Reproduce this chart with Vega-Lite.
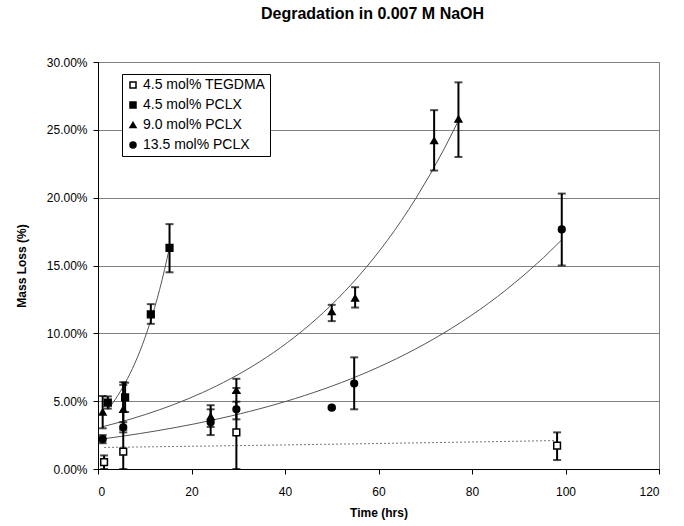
{
  "$schema": "https://vega.github.io/schema/vega-lite/v6.json",
  "autosize": {"type": "none"},
  "width": 561,
  "height": 407,
  "padding": {"left": 98, "top": 62, "right": 25, "bottom": 57},
  "background": "white",
  "config": {
    "font": "Liberation Sans",
    "view": {"stroke": "#808080", "strokeWidth": 1}
  },
  "title": {
    "text": "Degradation in 0.007 M NaOH",
    "fontSize": 16,
    "fontWeight": "bold",
    "font": "Liberation Sans",
    "anchor": "middle",
    "offset": 34,
    "dx": -6,
    "color": "black"
  },
  "data": {
    "values": [
      {"series": "4.5 mol% TEGDMA", "t": 1.3, "m": 0.5, "lo": 0.0, "hi": 1.0},
      {"series": "4.5 mol% TEGDMA", "t": 5.4, "m": 1.28, "lo": 0.0, "hi": 6.4},
      {"series": "4.5 mol% TEGDMA", "t": 29.6, "m": 2.7, "lo": 0.0, "hi": 6.65},
      {"series": "4.5 mol% TEGDMA", "t": 98.2, "m": 1.72, "lo": 0.66, "hi": 2.7},
      {"series": "4.5 mol% PCLX", "t": 2.1, "m": 4.9, "lo": 4.45, "hi": 5.35},
      {"series": "4.5 mol% PCLX", "t": 5.8, "m": 5.28, "lo": 4.2, "hi": 6.36},
      {"series": "4.5 mol% PCLX", "t": 11.3, "m": 11.4, "lo": 10.7, "hi": 12.15},
      {"series": "4.5 mol% PCLX", "t": 15.3, "m": 16.3, "lo": 14.5, "hi": 18.05},
      {"series": "9.0 mol% PCLX", "t": 1.0, "m": 4.2, "lo": 3.0, "hi": 5.38},
      {"series": "9.0 mol% PCLX", "t": 5.4, "m": 4.4, "lo": 2.9, "hi": 6.2},
      {"series": "9.0 mol% PCLX", "t": 24.1, "m": 3.86, "lo": 3.1, "hi": 4.7},
      {"series": "9.0 mol% PCLX", "t": 29.6, "m": 5.8, "lo": 5.6, "hi": 5.97},
      {"series": "9.0 mol% PCLX", "t": 50.0, "m": 11.6, "lo": 10.9, "hi": 12.1},
      {"series": "9.0 mol% PCLX", "t": 55.0, "m": 12.6, "lo": 11.9, "hi": 13.4},
      {"series": "9.0 mol% PCLX", "t": 71.9, "m": 24.2, "lo": 22.0, "hi": 26.45},
      {"series": "9.0 mol% PCLX", "t": 77.1, "m": 25.8, "lo": 23.0, "hi": 28.5},
      {"series": "13.5 mol% PCLX", "t": 1.0, "m": 2.2, "lo": 1.9, "hi": 2.5},
      {"series": "13.5 mol% PCLX", "t": 5.4, "m": 3.07, "lo": 2.7, "hi": 3.45},
      {"series": "13.5 mol% PCLX", "t": 24.1, "m": 3.45, "lo": 2.5, "hi": 4.4},
      {"series": "13.5 mol% PCLX", "t": 29.6, "m": 4.4, "lo": 3.66, "hi": 4.96},
      {"series": "13.5 mol% PCLX", "t": 50.0, "m": 4.52, "lo": 4.45, "hi": 4.6},
      {"series": "13.5 mol% PCLX", "t": 54.8, "m": 6.3, "lo": 4.4, "hi": 8.23},
      {"series": "13.5 mol% PCLX", "t": 99.2, "m": 17.66, "lo": 15.0, "hi": 20.3}
    ]
  },
  "encoding": {
    "x": {
      "field": "t",
      "type": "quantitative",
      "title": "Time (hrs)",
      "scale": {"domain": [0, 120], "nice": false, "zero": true},
      "axis": {
        "values": [0, 20, 40, 60, 80, 100, 120],
        "grid": false,
        "domainColor": "black",
        "tickColor": "black",
        "tickSize": 5,
        "labelPadding": 12,
        "labelFontSize": 12,
        "labelColor": "black",
        "titleFontSize": 12,
        "titleFontWeight": "bold",
        "titleColor": "black",
        "titlePadding": 10
      }
    },
    "y": {
      "field": "m",
      "type": "quantitative",
      "title": "Mass Loss (%)",
      "scale": {"domain": [0, 30], "nice": false, "zero": true},
      "axis": {
        "values": [0, 5, 10, 15, 20, 25, 30],
        "labelExpr": "format(datum.value, '.2f') + '%'",
        "grid": true,
        "gridColor": "#808080",
        "gridWidth": 1,
        "domainColor": "black",
        "tickColor": "black",
        "tickSize": 5,
        "labelPadding": 6,
        "labelFontSize": 12,
        "labelColor": "black",
        "titleFontSize": 12,
        "titleFontWeight": "bold",
        "titleColor": "black",
        "titlePadding": 18
      }
    }
  },
  "layer": [
    {
      "transform": [
        {"filter": "datum.series != '4.5 mol% TEGDMA'"},
        {"regression": "m", "on": "t", "groupby": ["series"], "method": "exp"}
      ],
      "mark": {"type": "line", "color": "#555555", "strokeWidth": 1},
      "encoding": {"detail": {"field": "series"}}
    },
    {
      "transform": [
        {"filter": "datum.series == '4.5 mol% TEGDMA'"},
        {"regression": "m", "on": "t", "method": "exp"}
      ],
      "mark": {"type": "line", "color": "#777777", "strokeWidth": 1, "strokeDash": [2, 2]},
      "encoding": {}
    },
    {
      "mark": {
        "type": "errorbar",
        "color": "black",
        "ticks": {"size": 8, "thickness": 2, "color": "black"},
        "rule": {"strokeWidth": 2, "color": "black"}
      },
      "encoding": {
        "y": {"field": "lo", "type": "quantitative"},
        "y2": {"field": "hi"}
      }
    },
    {
      "mark": {"type": "point", "filled": true, "opacity": 1, "strokeWidth": 1.5},
      "encoding": {
        "shape": {
          "field": "series",
          "type": "nominal",
          "sort": ["4.5 mol% TEGDMA", "4.5 mol% PCLX", "9.0 mol% PCLX", "13.5 mol% PCLX"],
          "scale": {
            "domain": ["4.5 mol% TEGDMA", "4.5 mol% PCLX", "9.0 mol% PCLX", "13.5 mol% PCLX"],
            "range": ["square", "square", "triangle-up", "circle"]
          },
          "legend": {
            "title": null,
            "orient": "none",
            "legendX": 24,
            "legendY": 12,
            "padding": 4,
            "strokeColor": "black",
            "fillColor": "white",
            "cornerRadius": 0,
            "labelFontSize": 14,
            "labelColor": "black",
            "labelFont": "Liberation Sans",
            "symbolSize": 36,
            "symbolStrokeWidth": 1.5,
            "rowPadding": 6,
            "labelOffset": 3
          }
        },
        "fill": {
          "field": "series",
          "type": "nominal",
          "sort": ["4.5 mol% TEGDMA", "4.5 mol% PCLX", "9.0 mol% PCLX", "13.5 mol% PCLX"],
          "scale": {
            "domain": ["4.5 mol% TEGDMA", "4.5 mol% PCLX", "9.0 mol% PCLX", "13.5 mol% PCLX"],
            "range": ["white", "black", "black", "black"]
          },
          "legend": {
            "title": null,
            "orient": "none",
            "legendX": 24,
            "legendY": 12,
            "padding": 4,
            "strokeColor": "black",
            "fillColor": "white",
            "cornerRadius": 0,
            "labelFontSize": 14,
            "labelColor": "black",
            "labelFont": "Liberation Sans",
            "symbolSize": 36,
            "symbolStrokeWidth": 1.5,
            "rowPadding": 6,
            "labelOffset": 3
          }
        },
        "stroke": {
          "field": "series",
          "type": "nominal",
          "sort": ["4.5 mol% TEGDMA", "4.5 mol% PCLX", "9.0 mol% PCLX", "13.5 mol% PCLX"],
          "scale": {
            "domain": ["4.5 mol% TEGDMA", "4.5 mol% PCLX", "9.0 mol% PCLX", "13.5 mol% PCLX"],
            "range": ["black", "black", "black", "black"]
          },
          "legend": {
            "title": null,
            "orient": "none",
            "legendX": 24,
            "legendY": 12,
            "padding": 4,
            "strokeColor": "black",
            "fillColor": "white",
            "cornerRadius": 0,
            "labelFontSize": 14,
            "labelColor": "black",
            "labelFont": "Liberation Sans",
            "symbolSize": 36,
            "symbolStrokeWidth": 1.5,
            "rowPadding": 6,
            "labelOffset": 3
          }
        },
        "size": {"value": 45}
      }
    }
  ]
}
